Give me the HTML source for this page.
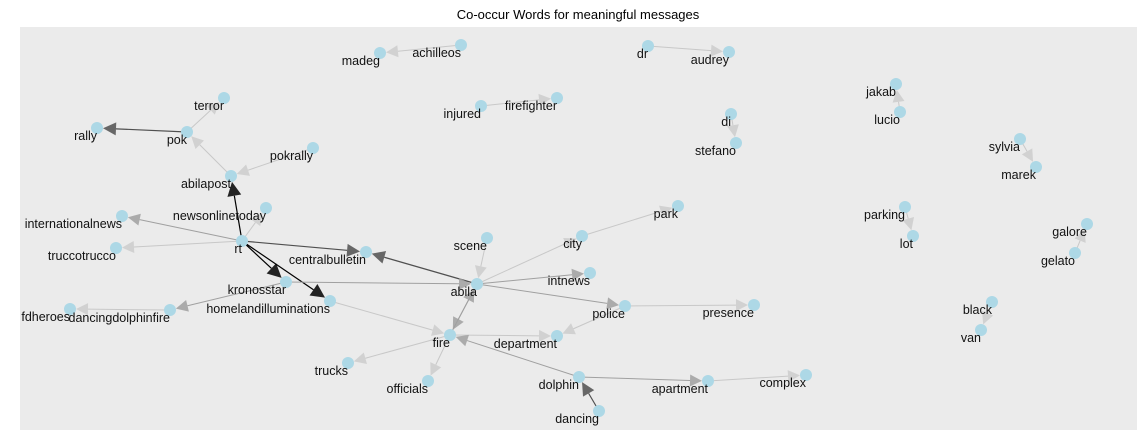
<!DOCTYPE html>
<html><head><meta charset="utf-8"><style>
body{margin:0;background:#fff;}
svg{display:block;font-family:"Liberation Sans",Arial,sans-serif;}
</style></head><body>
<svg id="chart" width="1146" height="437">
<text x="578" y="19" text-anchor="middle" font-size="13" fill="#000">Co-occur Words for meaningful messages</text>
<rect x="20" y="27" width="1117" height="403" fill="#ebebeb"/>
<g id="edges"></g><g id="nodes"></g><g id="labels"></g>
</svg>
<script>
const nodeNames=["achilleos","madeg","dr","audrey","terror","pok","rally","injured","firefighter","di","stefano","jakab","lucio","sylvia","marek","pokrally","abilapost","newsonlinetoday","internationalnews","rt","truccotrucco","centralbulletin","scene","city","park","parking","lot","galore","gelato","intnews","abila","kronosstar","homelandilluminations","police","presence","fdheroes","dancingdolphinfire","department","fire","black","van","trucks","officials","dolphin","apartment","complex","dancing"];
const nodeX=[461,380,648,729,224,187,97,481,557,731,736,896,900,1020,1036,313,231,266,122,242,116,366,487,582,678,905,913,1087,1075,590,477,286,330,625,754,70,170,557,450,992,981,348,428,579,708,806,599];
const nodeY=[45,53,46,52,98,132,128,106,98,114,143,84,112,139,167,148,176,208,216,241,248,252,238,236,206,207,236,224,253,273,284,282,301,306,305,309,310,336,335,302,330,363,381,377,381,375,411];
const edgeFrom=["achilleos","dr","pok","pok","abilapost","pokrally","rt","rt","rt","rt","rt","rt","rt","abila","kronosstar","dancingdolphinfire","kronosstar","homelandilluminations","scene","abila","city","abila","abila","police","police","abila","fire","fire","fire","fire","dolphin","dolphin","apartment","dancing","injured","di","lucio","sylvia","parking","gelato","black"];
const edgeTo=["madeg","audrey","terror","rally","pok","abilapost","abilapost","newsonlinetoday","internationalnews","truccotrucco","centralbulletin","kronosstar","homelandilluminations","centralbulletin","dancingdolphinfire","fdheroes","abila","fire","abila","city","park","intnews","police","presence","department","fire","abila","department","trucks","officials","fire","apartment","complex","dolphin","firefighter","stefano","jakab","marek","lot","galore","van"];
const edgeWeight=[1,1,1,3,1,1,4,1,2,1,3,4,4,3,2,1,2,1,1,1,1,2,2,1,1,2,2,1,1,1,2,2,1,3,1,1,1,1,1,1,1];

const NS="http://www.w3.org/2000/svg";
const colors={1:"#c8c8c8",2:"#a0a0a0",3:"#505050",4:"#000000"};
const arrowSize={1:12,2:12,3:13,4:14};
const eg=document.getElementById("edges"),ng=document.getElementById("nodes"),lg=document.getElementById("labels");
function idx(n){return nodeNames.indexOf(n);}
for(let i=0;i<edgeFrom.length;i++){
  const a=idx(edgeFrom[i]),b=idx(edgeTo[i]),w=edgeWeight[i];
  const x1=nodeX[a],y1=nodeY[a],x2=nodeX[b],y2=nodeY[b];
  const dx=x2-x1,dy=y2-y1,L=Math.hypot(dx,dy),ux=dx/L,uy=dy/L;
  const tx=x2-ux*6,ty=y2-uy*6,s=arrowSize[w];
  const bx=tx-ux*s,by=ty-uy*s,px=-uy*s*0.5,py=ux*s*0.5;
  const line=document.createElementNS(NS,"line");
  line.setAttribute("x1",x1);line.setAttribute("y1",y1);line.setAttribute("x2",bx);line.setAttribute("y2",by);
  line.setAttribute("stroke",colors[w]);line.setAttribute("stroke-width",w>=3?1.2:1);
  
  
  eg.appendChild(line);
  const ar=document.createElementNS(NS,"polygon");
  ar.setAttribute("points",`${tx},${ty} ${bx+px},${by+py} ${bx-px},${by-py}`);
  ar.setAttribute("fill",colors[w]);ar.setAttribute("fill-opacity",w==1?0.75:0.85);
  
  
  eg.appendChild(ar);
}
for(let i=0;i<nodeNames.length;i++){
  const c=document.createElementNS(NS,"circle");
  c.setAttribute("cx",nodeX[i]);c.setAttribute("cy",nodeY[i]);c.setAttribute("r",6);c.setAttribute("fill","#add8e6");
  
  
  ng.appendChild(c);
  const t=document.createElementNS(NS,"text");
  t.setAttribute("x",nodeX[i]);t.setAttribute("y",nodeY[i]+12);t.setAttribute("text-anchor","end");
  t.setAttribute("font-size","12.5");t.setAttribute("fill","#111");
  t.textContent=nodeNames[i];
  
  
  lg.appendChild(t);
}
</script>
</body></html>
